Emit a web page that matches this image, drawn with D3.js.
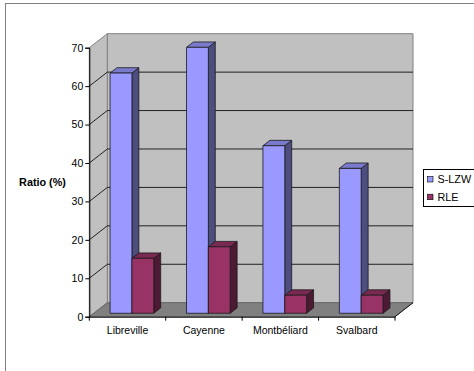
<!DOCTYPE html>
<html>
<head>
<meta charset="utf-8">
<script src="https://cdn.jsdelivr.net/npm/d3@7"></script>
<style>
  html, body { margin: 0; padding: 0; background: #fff; }
  svg { display: block; font-family: "Liberation Sans", Arial, sans-serif; }
</style>
</head>
<body>
<svg id="chart" width="474" height="371"></svg>
<script>
// Compression ratio per site and method
const categories = ["Libreville", "Cayenne", "Montbéliard", "Svalbard"];
const seriesNames = ["S-LZW", "RLE"];
const slzwValues = [62.5, 69.2, 43.6, 37.7];
const rleValues = [14.3, 17.3, 4.7, 4.7];
const yTicks = [0, 10, 20, 30, 40, 50, 60, 70];

const colors = {
  "S-LZW": { front: "#9999ff", side: "#4d4d80", top: "#7a7acc" },
  "RLE":   { front: "#993366", side: "#4d1a33", top: "#7a2952" }
};
const seriesValues = { "S-LZW": slzwValues, "RLE": rleValues };

const svg = d3.select("#chart");

// front plane of the plot and depth offset of the 3D box
const x0 = 89.3, x1 = 395, yBottom = 316.7, yTop = 47.7;
const depthDX = 18, depthDY = -14;

const y = d3.scaleLinear().domain([0, 70]).range([yBottom, yTop]);
const x = d3.scaleBand().domain(categories).range([x0, x1]);
const xs = d3.scaleBand().domain(seriesNames).range([0, x.bandwidth()])
  .paddingOuter(0.375 * 2 / 1).paddingInner(0);

// project a point at value v, horizontal position px, depth z (0 front .. 1 back)
const P = (px, v, z) => [px + depthDX * z, y(v) + depthDY * z];
const poly = pts => "M" + pts.map(p => p.join(",")).join("L") + "Z";

// outer chart frame
svg.append("rect").attr("x", 5.5).attr("y", 3.5).attr("width", 480).attr("height", 400)
  .attr("fill", "#fff").attr("stroke", "#808080").attr("stroke-width", 1);

const g = svg.append("g");

// back wall
g.append("path")
  .attr("d", poly([P(x0, 0, 1), P(x0, 70, 1), P(x1, 70, 1), P(x1, 0, 1)]))
  .attr("fill", "#c0c0c0").attr("stroke", "#808080").attr("stroke-width", 1);
// side wall
g.append("path")
  .attr("d", poly([P(x0, 0, 0), P(x0, 70, 0), P(x0, 70, 1), P(x0, 0, 1)]))
  .attr("fill", "#c0c0c0").attr("stroke", "#808080").attr("stroke-width", 1);

// gridlines on the walls
yTicks.filter(t => t > 0 && t < 70).forEach(t => {
  const a = P(x0, t, 0), b = P(x0, t, 1), c = P(x1, t, 1);
  g.append("path").attr("d", `M${a}L${b}L${c}`)
    .attr("fill", "none").attr("stroke", "#222").attr("stroke-width", 1);
});

// floor
g.append("path")
  .attr("d", poly([P(x0, 0, 0), P(x0, 0, 1), P(x1, 0, 1), P(x1, 0, 0)]))
  .attr("fill", "#808080").attr("stroke", "#606060").attr("stroke-width", 0.8);

// bars: front face, right side and top of each box
const zFront = 0.245, zBack = 0.63;
categories.forEach((cat, i) => {
  seriesNames.forEach(s => {
    const v = seriesValues[s][i];
    const left = x(cat) + xs(s) - depthDX * 0 ;
    const right = left + xs.bandwidth();
    const c = colors[s];
    const stroke = { stroke: "#1a1a1a", "stroke-width": 0.8, "stroke-linejoin": "round" };
    const side = poly([P(right, 0, zFront), P(right, v, zFront), P(right, v, zBack), P(right, 0, zBack)]);
    const top = poly([P(left, v, zFront), P(left, v, zBack), P(right, v, zBack), P(right, v, zFront)]);
    const front = poly([P(left, 0, zFront), P(left, v, zFront), P(right, v, zFront), P(right, 0, zFront)]);
    [[side, c.side], [top, c.top], [front, c.front]].forEach(([d, f]) => {
      const p = g.append("path").attr("d", d).attr("fill", f);
      Object.entries(stroke).forEach(([k, val]) => p.attr(k, val));
    });
  });
});

// value axis
const yAxis = d3.axisLeft(y).tickValues(yTicks).tickSize(4).tickPadding(2);
const ya = svg.append("g").attr("transform", `translate(${x0},0)`).call(yAxis);
ya.select(".domain").attr("stroke", "#000");
ya.selectAll(".tick line").attr("stroke", "#000");
ya.selectAll("text").attr("font-size", 10.5).attr("fill", "#000")
  .attr("font-family", "Liberation Sans, Arial, sans-serif");

// category axis
const xAxis = d3.axisBottom(x).tickSize(0).tickPadding(10);
const xa = svg.append("g").attr("transform", `translate(0,${yBottom})`).call(xAxis);
xa.select(".domain").attr("stroke", "#000");
xa.selectAll("text").attr("font-size", 10.5).attr("fill", "#000")
  .attr("font-family", "Liberation Sans, Arial, sans-serif");
// category separators
xa.selectAll(".sep").data(categories.concat([null])).enter().append("line")
  .attr("class", "sep")
  .attr("x1", (d, i) => i < categories.length ? x(d) : x1)
  .attr("x2", (d, i) => i < categories.length ? x(d) : x1)
  .attr("y1", 0).attr("y2", 4).attr("stroke", "#000");
// floor right edge
svg.append("path").attr("d", `M${P(x1, 0, 0)}L${P(x1, 0, 1)}`)
  .attr("stroke", "#000").attr("stroke-width", 0.8).attr("fill", "none");

// axis title
svg.append("text").attr("x", 42.5).attr("y", 185.5).attr("text-anchor", "middle")
  .attr("font-size", 10.8).attr("font-weight", "bold").text("Ratio (%)");

// legend
const lg = svg.append("g");
lg.append("rect").attr("x", 423.5).attr("y", 169.5).attr("width", 60).attr("height", 37)
  .attr("fill", "#fff").attr("stroke", "#000").attr("stroke-width", 1);
seriesNames.forEach((s, i) => {
  const cy = 179.5 + i * 17.7;
  lg.append("rect").attr("x", 427.5).attr("y", cy - 3).attr("width", 5.5).attr("height", 5.5)
    .attr("fill", colors[s].front).attr("stroke", "#000").attr("stroke-width", 0.6);
  lg.append("text").attr("x", 437.5).attr("y", cy + 3.8).attr("font-size", 10.8).text(s);
});
</script>
</body>
</html>
